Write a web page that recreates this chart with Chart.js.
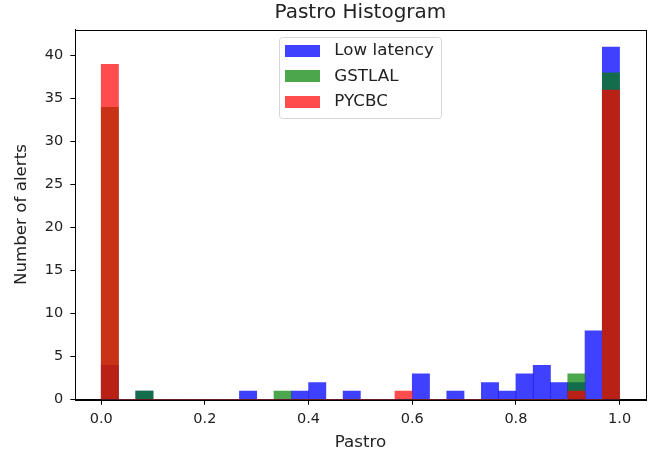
<!DOCTYPE html>
<html><head><meta charset="utf-8">
<script src="https://cdn.jsdelivr.net/npm/chart.js@4"></script>
<style>html,body{margin:0;padding:0;background:#fff;}canvas{display:block;}</style>
</head><body>
<canvas id="c" width="661" height="456"></canvas>
<script>
// histogram bins (centres of 30 equal bins on [0, 1])
const binCenters = [0.0167,0.05,0.0833,0.1167,0.15,0.1833,0.2167,0.25,0.2833,0.3167,
                    0.35,0.3833,0.4167,0.45,0.4833,0.5167,0.55,0.5833,0.6167,0.65,
                    0.6833,0.7167,0.75,0.7833,0.8167,0.85,0.8833,0.9167,0.95,0.9833];
const lowLatency = [4,0,1,0,0,0,0,0,1,0,0,1,2,0,1,0,0,0,3,0,1,0,2,1,3,4,2,2,8,41];
const gstlal     = [34,0,1,0,0,0,0,0,0,0,1,0,0,0,0,0,0,0,0,0,0,0,0,0,0,0,0,3,0,38];
const pycbc      = [39,0,0,0,0,0,0,0,0,0,0,0,0,0,0,0,0,1,0,0,0,0,0,0,0,0,0,1,0,36];
const seriesLabels = ['Low latency','GSTLAL','PYCBC'];
const xTicks = [0.0,0.2,0.4,0.6,0.8,1.0];
const yTicks = [0,5,10,15,20,25,30,35,40];

const FONT = 'DejaVu Sans';
const TXT = '#222';
function swatch(color){
  const c = document.createElement('canvas');
  c.width = 35; c.height = 12;
  const g = c.getContext('2d');
  g.fillStyle = color; g.fillRect(0,0,35,12);
  return c;
}
function pts(vals){ return vals.map((v,i)=>({x: binCenters[i], y: v})); }

const colBlue = 'rgba(0,0,255,0.75)';
const colGreen = 'rgba(0,128,0,0.7)';
const colRed = 'rgba(255,0,0,0.7)';

const framePlugin = {
  id: 'frame',
  afterUpdate(chart){
    const lg = chart.legend;
    if (!lg) return;
    const pad = lg.options.labels.padding;
    const w = lg.width;
    lg.left = 279 - pad; lg.right = lg.left + w;
    lg.top = 42.2 - pad; lg.bottom = lg.top + 300;
  },
  afterDraw(chart){
    const {ctx, chartArea: a} = chart;
    ctx.save();
    ctx.strokeStyle = '#000';
    ctx.lineWidth = 1;
    ctx.strokeRect(Math.round(a.left)+0.5, Math.round(a.top)+0.5, Math.round(a.right)-Math.round(a.left), Math.round(a.bottom)-Math.round(a.top));
    // legend frame
    const x0=279.5, y0=37.5, x1=441.5, y1=118.5, r=3;
    ctx.strokeStyle = '#d6d6d6';
    ctx.beginPath();
    ctx.moveTo(x0+r,y0); ctx.lineTo(x1-r,y0); ctx.quadraticCurveTo(x1,y0,x1,y0+r);
    ctx.lineTo(x1,y1-r); ctx.quadraticCurveTo(x1,y1,x1-r,y1);
    ctx.lineTo(x0+r,y1); ctx.quadraticCurveTo(x0,y1,x0,y1-r);
    ctx.lineTo(x0,y0+r); ctx.quadraticCurveTo(x0,y0,x0+r,y0);
    ctx.stroke();
    ctx.restore();
  }
};

new Chart(document.getElementById('c'), {
  type: 'bar',
  data: {
    datasets: [
      {label: seriesLabels[2], data: pts(pycbc), backgroundColor: colRed, pointStyle: swatch(colRed)},
      {label: seriesLabels[1], data: pts(gstlal), backgroundColor: colGreen, pointStyle: swatch(colGreen)},
      {label: seriesLabels[0], data: pts(lowLatency), backgroundColor: colBlue, pointStyle: swatch(colBlue)}
    ]
  },
  options: {
    responsive: false,
    animation: false,
    devicePixelRatio: 1,
    grouped: false,
    barPercentage: 1,
    categoryPercentage: 1,
    borderWidth: 0,
    layout: {padding: {left: 0, right: 15.5, top: 0, bottom: 0}},
    plugins: {
      tooltip: {enabled: false},
      title: {
        display: true, text: 'Pastro Histogram', fullSize: false,
        color: TXT, font: {family: FONT, size: 20, weight: 'normal', lineHeight: 1.2},
        padding: {top: 0.5, bottom: 5}
      },
      legend: {
        position: 'chartArea', align: 'start', reverse: true,
        labels: {
          usePointStyle: true, pointStyleWidth: 47,
          color: TXT, font: {family: FONT, size: 16.7}, padding: 9.1
        }
      }
    },
    scales: {
      x: {
        type: 'linear', offset: false, min: -0.05, max: 1.05,
        afterFit(s){ s.height = 56.3; },
        afterBuildTicks(s){ s.ticks = xTicks.map(v => ({value: v})); },
        ticks: {color: TXT, font: {family: FONT, size: 14.5}, padding: 6, maxRotation: 0,
                callback: v => Number(v).toFixed(1)},
        grid: {offset: false, drawOnChartArea: false, drawTicks: true, tickLength: 5, color: '#000', tickWidth: 1},
        border: {display: true, color: '#000', width: 1},
        title: {display: true, text: 'Pastro', color: TXT, font: {family: FONT, size: 16.7}, padding: {top: 0, bottom: 3}}
      },
      y: {
        type: 'linear', min: 0, max: 43.05,
        afterFit(s){ s.width = 75.3; },
        afterBuildTicks(s){ s.ticks = yTicks.map(v => ({value: v})); },
        ticks: {color: TXT, font: {family: FONT, size: 14.5}, padding: 7},
        grid: {offset: false, drawOnChartArea: false, drawTicks: true, tickLength: 5, color: '#000', tickWidth: 1},
        border: {display: true, color: '#000', width: 1},
        title: {display: true, text: 'Number of alerts', color: TXT, font: {family: FONT, size: 16.7}, padding: {top: 11.7, bottom: 0}}
      }
    }
  },
  plugins: [framePlugin]
});
</script>
</body></html>
